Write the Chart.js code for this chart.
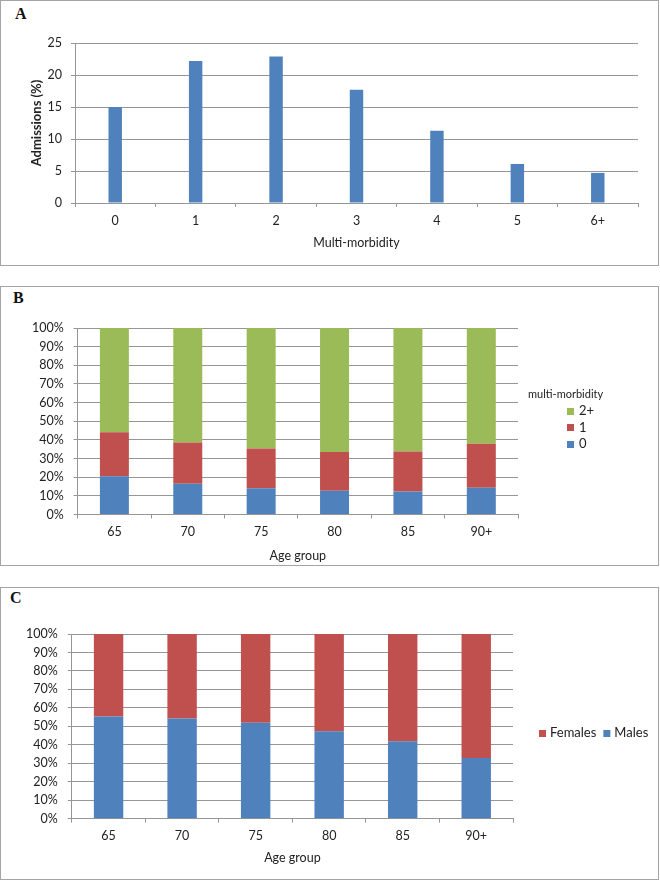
<!DOCTYPE html>
<html>
<head>
<meta charset="utf-8">
<script src="https://cdn.jsdelivr.net/npm/chart.js@4.4.1/dist/chart.umd.min.js"></script>
<style>
  body { margin: 0; background: #fff; }
  #page { position: relative; width: 660px; height: 881px; overflow: hidden; }
  .panel { position: absolute; left: 0; width: 659px; border: 1px solid #a5a5a5; box-sizing: border-box; }
  .letter { position: absolute; font: bold 16px "Liberation Serif", serif; line-height: 16px; color: #111; }
  canvas { position: absolute; left: 0; }
</style>
</head>
<body>
<div id="page">
  <div class="panel" style="top:0;height:266px"></div>
  <div class="panel" style="top:286px;height:280px"></div>
  <div class="panel" style="top:587px;height:293px"></div>
  <div class="letter" style="left:15px;top:6px">A</div>
  <div class="letter" style="left:13px;top:290px">B</div>
  <div class="letter" style="left:10px;top:590px">C</div>
  <canvas id="chartA" width="660" height="266" style="top:0"></canvas>
  <canvas id="chartB" width="660" height="280" style="top:286px"></canvas>
  <canvas id="chartC" width="660" height="293" style="top:587px"></canvas>
</div>
<script>
// panel A: admissions by number of conditions
const morbidityCats = ['0', '1', '2', '3', '4', '5', '6+'];
const admissions = [15.0, 22.2, 22.9, 17.7, 11.3, 6.1, 4.7];

// panel B: multi-morbidity share by age group
const ageGroups = ['65', '70', '75', '80', '85', '90+'];
const mmLabels = ['0', '1', '2+'];
const mm0 = [20.5, 16.5, 14.1, 12.8, 12.3, 14.4];
const mm1 = [23.6, 22.1, 21.3, 20.7, 21.5, 23.5];
const mm2 = [55.9, 61.4, 64.6, 66.5, 66.2, 62.1];

// panel C: sex share by age group
const sexLabels = ['Males', 'Females'];
const males = [55.3, 54.2, 51.9, 47.4, 42.0, 32.9];
const females = [44.7, 45.8, 48.1, 52.6, 58.0, 67.1];

const blue = '#4f81bd';
const red = '#c0504d';
const green = '#9bbb59';
const gridColor = '#969696';
const textColor = '#222';

Chart.defaults.font.family = 'Lato, "Open Sans", sans-serif';
Chart.defaults.font.size = 12.5;
Chart.defaults.color = textColor;

// small legend drawn next to the plot, like the Excel one
const sideLegend = {
    id: 'sideLegend',
    afterDraw(chart, args, o) {
        if (!o || !o.display) return;
        const ctx = chart.ctx;
        let items = chart.data.datasets.map(d => ({ text: d.label, color: d.backgroundColor }));
        if (o.reverse) items = items.reverse();
        ctx.save();
        ctx.textBaseline = 'middle';
        ctx.textAlign = 'left';
        if (o.title) {
            ctx.font = o.titleFont;
            ctx.fillStyle = textColor;
            ctx.fillText(o.title, o.titleX, o.titleY);
        }
        ctx.font = o.font;
        let x = o.x, y = o.y;
        items.forEach(it => {
            ctx.fillStyle = it.color;
            ctx.fillRect(x, Math.round(y - o.box / 2), o.box, o.box);
            ctx.fillStyle = textColor;
            ctx.fillText(it.text, x + o.box + o.gap, y);
            if (o.row) {
                x += o.box + o.gap + ctx.measureText(it.text).width + o.itemGap;
            } else {
                y += o.step;
            }
        });
        ctx.restore();
    }
};

function percentAxis(width) {
    return {
        stacked: true,
        min: 0,
        max: 100,
        ticks: { stepSize: 10, padding: 10, autoSkip: false, callback: v => v + '%' },
        grid: { color: gridColor, tickLength: 4 },
        border: { color: gridColor },
        afterFit: s => { s.width = width; }
    };
}

function ageAxis(height, titlePad) {
    return {
        stacked: true,
        grid: { drawOnChartArea: false, tickLength: 4, color: gridColor },
        border: { color: gridColor },
        ticks: { padding: 6 },
        title: { display: true, text: 'Age group', padding: { top: 0, bottom: titlePad } },
        afterFit: s => { s.height = height; }
    };
}

new Chart(document.getElementById('chartA'), {
    type: 'bar',
    data: {
        labels: morbidityCats,
        datasets: [{
            label: 'Admissions (%)',
            data: admissions,
            backgroundColor: blue,
            barPercentage: 0.167,
            categoryPercentage: 1
        }]
    },
    options: {
        responsive: false,
        animation: false,
        layout: { padding: { top: 43, right: 22, left: 0, bottom: 0 } },
        plugins: { legend: { display: false }, tooltip: { enabled: false } },
        scales: {
            x: {
                grid: { drawOnChartArea: false, tickLength: 4, color: gridColor },
                border: { color: gridColor },
                ticks: { padding: 6 },
                title: { display: true, text: 'Multi-morbidity', padding: { top: 0, bottom: 16 } },
                afterFit: s => { s.height = 63; }
            },
            y: {
                min: 0,
                max: 25,
                ticks: { stepSize: 5, padding: 9 },
                grid: { color: gridColor, tickLength: 4 },
                border: { color: gridColor },
                title: {
                    display: true,
                    text: 'Admissions (%)',
                    font: { size: 13, weight: 'bold' },
                    padding: { top: 29, bottom: 0 }
                },
                afterFit: s => { s.width = 75; }
            }
        }
    }
});

new Chart(document.getElementById('chartB'), {
    type: 'bar',
    plugins: [sideLegend],
    data: {
        labels: ageGroups,
        datasets: [
            { label: mmLabels[0], data: mm0, backgroundColor: blue },
            { label: mmLabels[1], data: mm1, backgroundColor: red },
            { label: mmLabels[2], data: mm2, backgroundColor: green }
        ]
    },
    options: {
        responsive: false,
        animation: false,
        datasets: { bar: { barPercentage: 0.395, categoryPercentage: 1 } },
        layout: { padding: { top: 42, right: 142, left: 0, bottom: 0 } },
        plugins: {
            legend: { display: false },
            tooltip: { enabled: false },
            sideLegend: {
                display: true,
                reverse: true,
                title: 'multi-morbidity',
                titleFont: '11px Lato, sans-serif',
                titleX: 528,
                titleY: 108,
                font: '13px Lato, sans-serif',
                x: 567,
                y: 125,
                box: 7,
                gap: 5,
                step: 16.6
            }
        },
        scales: {
            x: ageAxis(51.5, 3),
            y: percentAxis(77.7)
        }
    }
});

new Chart(document.getElementById('chartC'), {
    type: 'bar',
    plugins: [sideLegend],
    data: {
        labels: ageGroups,
        datasets: [
            { label: sexLabels[0], data: males, backgroundColor: blue },
            { label: sexLabels[1], data: females, backgroundColor: red }
        ]
    },
    options: {
        responsive: false,
        animation: false,
        datasets: { bar: { barPercentage: 0.4, categoryPercentage: 1 } },
        layout: { padding: { top: 47, right: 147, left: 0, bottom: 0 } },
        plugins: {
            legend: { display: false },
            tooltip: { enabled: false },
            sideLegend: {
                display: true,
                reverse: true,
                row: true,
                font: '13px Lato, sans-serif',
                x: 539,
                y: 146,
                box: 7,
                gap: 4,
                itemGap: 7
            }
        },
        scales: {
            x: ageAxis(61.3, 14.5),
            y: percentAxis(71.8)
        }
    }
});
</script>
</body>
</html>
